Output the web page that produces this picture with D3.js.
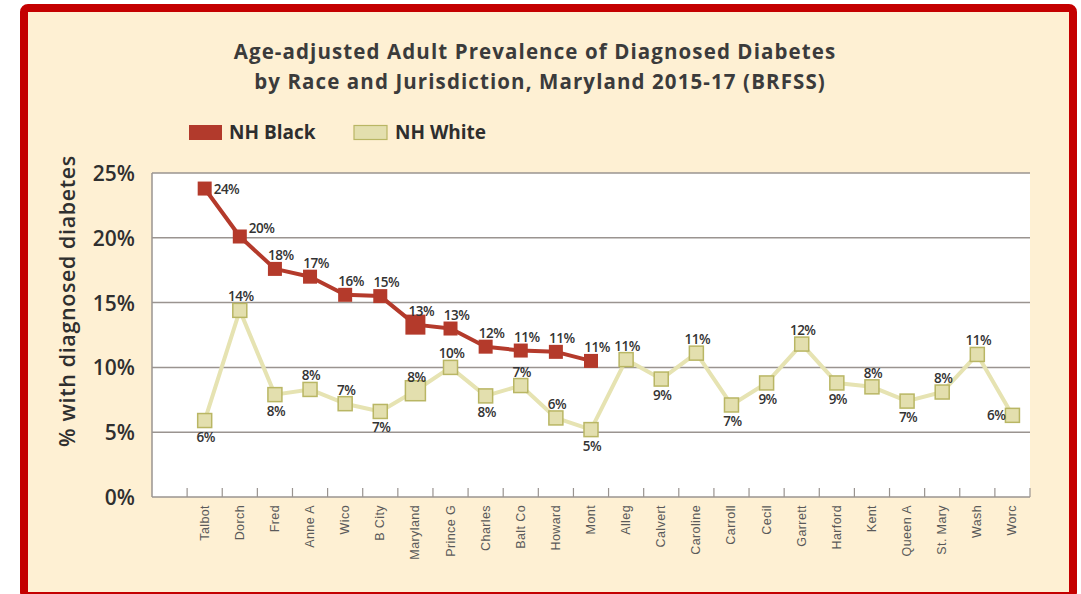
<!DOCTYPE html>
<html>
<head>
<meta charset="utf-8">
<script src="https://cdn.jsdelivr.net/npm/d3@7"></script>
<style>
  body { margin: 0; background: #fff; }
  svg { display: block; }
</style>
</head>
<body>
<script>
// jurisdictions, in the order they are plotted
const categories = ["Talbot", "Dorch", "Fred", "Anne A", "Wico", "B City", "Maryland",
  "Prince G", "Charles", "Balt Co", "Howard", "Mont", "Alleg", "Calvert", "Caroline",
  "Carroll", "Cecil", "Garrett", "Harford", "Kent", "Queen A", "St. Mary", "Wash", "Worc"];

// NH Black only reported for the first 12 jurisdictions
const blackValues = [23.8, 20.1, 17.6, 17.0, 15.6, 15.5, 13.3, 13.0, 11.6, 11.3, 11.2, 10.5];
const blackLabels = ["24%", "20%", "18%", "17%", "16%", "15%", "13%", "13%", "12%", "11%", "11%", "11%"];

const whiteValues = [5.9, 14.4, 7.9, 8.3, 7.2, 6.6, 8.2, 10.0, 7.8, 8.6, 6.1, 5.2,
  10.6, 9.1, 11.1, 7.1, 8.8, 11.8, 8.8, 8.5, 7.4, 8.1, 11.0, 6.3];
const whiteLabels = ["6%", "14%", "8%", "8%", "7%", "7%", "8%", "10%", "8%", "7%", "6%", "5%",
  "11%", "9%", "11%", "7%", "9%", "12%", "9%", "8%", "7%", "8%", "11%", "6%"];
// where each white label sits: t = above, b = below, l = left
const whiteLabelSide = ["b", "t", "b", "t", "t", "b", "t", "t", "b", "t", "t", "b",
  "t", "b", "t", "b", "b", "t", "b", "t", "b", "t", "t", "l"];

const yTicks = [0, 5, 10, 15, 20, 25];

const W = 1081, H = 594;
const plot = { left: 152, right: 1030, top: 173, bottom: 497 };

const svg = d3.select("body").append("svg").attr("width", W).attr("height", H);

// cream card with red frame
svg.append("rect").attr("width", W).attr("height", H).attr("fill", "#ffffff");
svg.append("rect")
  .attr("x", 24).attr("y", 8).attr("width", 1049).attr("height", 588)
  .attr("rx", 4)
  .attr("fill", "#fef0d3")
  .attr("stroke", "#c40000")
  .attr("stroke-width", 8);

// title
const title = svg.append("text")
  .attr("text-anchor", "middle")
  .attr("font-family", "'Open Sans', sans-serif")
  .attr("font-weight", 700)
  .attr("font-size", 20.5)
  .attr("letter-spacing", 1.1)
  .attr("fill", "#3b3b3b");
title.append("tspan").attr("x", 535).attr("y", 59).text("Age-adjusted Adult Prevalence of Diagnosed Diabetes");
title.append("tspan").attr("x", 540).attr("y", 89).text("by Race and Jurisdiction, Maryland 2015-17 (BRFSS)");

// legend
const legend = svg.append("g").attr("font-family", "'Open Sans', sans-serif")
  .attr("font-weight", 700).attr("font-size", 19).attr("fill", "#2e2e2e");
legend.append("rect").attr("x", 189).attr("y", 125).attr("width", 33).attr("height", 15)
  .attr("fill", "#b23a2c");
legend.append("text").attr("x", 229).attr("y", 139).text("NH Black");
legend.append("rect").attr("x", 354).attr("y", 125.5).attr("width", 33).attr("height", 14)
  .attr("fill", "#e3dfae").attr("stroke", "#b9b664").attr("stroke-width", 1.2);
legend.append("text").attr("x", 395).attr("y", 139).text("NH White");

// scales
const step = (plot.right - plot.left) / (categories.length + 1);
const x = d3.scaleBand().domain(categories).range([plot.left + step, plot.right]);
const cx = (d) => x(d) + x.bandwidth() / 2;
const y = d3.scaleLinear().domain([0, 25]).range([plot.bottom, plot.top]);

// plot area
svg.append("rect")
  .attr("x", plot.left).attr("y", plot.top)
  .attr("width", plot.right - plot.left).attr("height", plot.bottom - plot.top)
  .attr("fill", "#ffffff");

svg.append("g").selectAll("line").data(yTicks).join("line")
  .attr("x1", plot.left).attr("x2", plot.right)
  .attr("y1", (d) => y(d)).attr("y2", (d) => y(d))
  .attr("stroke", "#9a9490").attr("stroke-width", 1.5);

svg.append("line")
  .attr("x1", plot.left).attr("x2", plot.left)
  .attr("y1", plot.top).attr("y2", plot.bottom)
  .attr("stroke", "#9a9490").attr("stroke-width", 1.5);

// y axis labels
const yAxis = svg.append("g")
  .attr("transform", `translate(${plot.left - 14},0)`)
  .call(d3.axisLeft(y).tickValues(yTicks).tickSize(0).tickFormat((d) => d + "%"));
yAxis.select(".domain").remove();
yAxis.selectAll("text")
  .attr("font-family", "'Open Sans', sans-serif")
  .attr("font-weight", 600)
  .attr("font-size", 21)
  .attr("fill", "#2f2f2f")
  .attr("dy", "0.36em");

svg.append("text")
  .attr("transform", `translate(75,${(plot.top + plot.bottom) / 2 - 34}) rotate(-90)`)
  .attr("text-anchor", "middle")
  .attr("font-family", "'Open Sans', sans-serif")
  .attr("font-weight", 600)
  .attr("font-size", 21.5)
  .attr("letter-spacing", 0.6)
  .attr("fill", "#2f2f2f")
  .text("% with diagnosed diabetes");

// x axis: ticks between categories, pointing up
const bounds = categories.map((d) => x(d)).concat([plot.right]);
svg.append("g").selectAll("line").data(bounds).join("line")
  .attr("x1", (d) => d).attr("x2", (d) => d)
  .attr("y1", plot.bottom - 9).attr("y2", plot.bottom)
  .attr("stroke", "#9a9490").attr("stroke-width", 1.2);

svg.append("g").selectAll("text").data(categories).join("text")
  .attr("transform", (d) => `translate(${cx(d) + 4},${plot.bottom + 8}) rotate(-90)`)
  .attr("text-anchor", "end")
  .attr("font-family", "'Liberation Sans', Arial, sans-serif")
  .attr("font-size", 12.5)
  .attr("letter-spacing", 0.4)
  .attr("fill", "#5a5a5a")
  .text((d) => d);

// NH White series
const whiteData = categories.map((c, i) => ({ c, v: whiteValues[i], label: whiteLabels[i], side: whiteLabelSide[i] }));
const line = d3.line().x((d) => cx(d.c)).y((d) => y(d.v));

svg.append("path").datum(whiteData)
  .attr("d", line)
  .attr("fill", "none")
  .attr("stroke", "#e6e3b2")
  .attr("stroke-width", 4)
  .attr("stroke-linejoin", "round");

svg.append("g").selectAll("rect").data(whiteData).join("rect")
  .attr("x", (d) => cx(d.c) - (d.c === "Maryland" ? 10 : 7))
  .attr("y", (d) => y(d.v) - (d.c === "Maryland" ? 10 : 7))
  .attr("width", (d) => (d.c === "Maryland" ? 20 : 14))
  .attr("height", (d) => (d.c === "Maryland" ? 20 : 14))
  .attr("fill", "#e3dfae")
  .attr("stroke", "#b9b664")
  .attr("stroke-width", 1.5);

// NH Black series
const blackData = blackValues.map((v, i) => ({ c: categories[i], v, label: blackLabels[i] }));

svg.append("path").datum(blackData)
  .attr("d", line)
  .attr("fill", "none")
  .attr("stroke", "#b43a2b")
  .attr("stroke-width", 4)
  .attr("stroke-linejoin", "round");

svg.append("g").selectAll("rect").data(blackData).join("rect")
  .attr("x", (d) => cx(d.c) - (d.c === "Maryland" ? 10 : 7))
  .attr("y", (d) => y(d.v) - (d.c === "Maryland" ? 10 : 7))
  .attr("width", (d) => (d.c === "Maryland" ? 20 : 14))
  .attr("height", (d) => (d.c === "Maryland" ? 20 : 14))
  .attr("fill", "#b43a2b");

// data labels
const labelFont = (sel) => sel
  .attr("font-family", "'Open Sans', sans-serif")
  .attr("font-weight", 600)
  .attr("font-size", 13.5)
  .attr("fill", "#333")
  .attr("letter-spacing", -0.5);

svg.append("g").selectAll("text").data(whiteData).join("text")
  .call(labelFont)
  .attr("text-anchor", (d) => (d.side === "l" ? "end" : "middle"))
  .attr("x", (d) => cx(d.c) + (d.side === "l" ? -7 : 1))
  .attr("y", (d) => y(d.v) + (d.side === "t" ? -9 : d.side === "b" ? 21 : 5))
  .text((d) => d.label);

svg.append("g").selectAll("text").data(blackData).join("text")
  .call(labelFont)
  .attr("text-anchor", (d, i) => (i < 2 ? "start" : "middle"))
  .attr("x", (d, i) => cx(d.c) + (i < 2 ? 9 : 6))
  .attr("y", (d, i) => y(d.v) + (i === 0 ? 5 : i === 1 ? -4 : -9))
  .text((d) => d.label);
</script>
</body>
</html>
